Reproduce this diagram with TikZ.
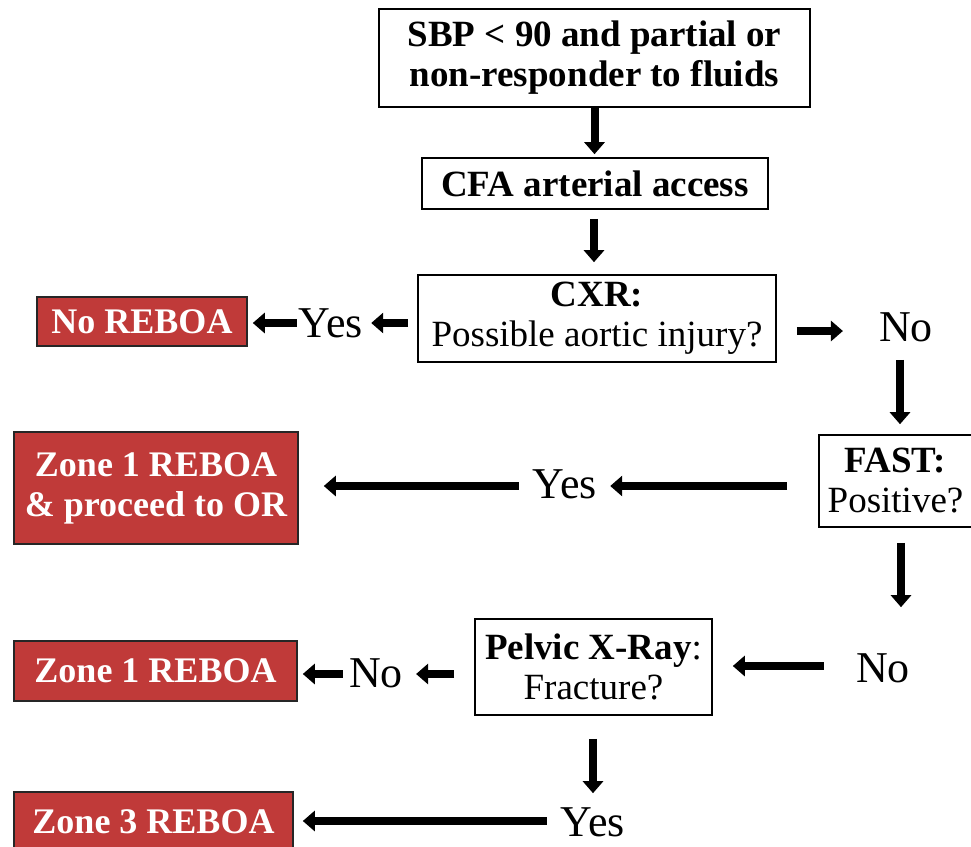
\documentclass[tikz,border=0pt]{standalone}
\usepackage{fontspec}
\setmainfont{Liberation Serif}
\usetikzlibrary{arrows.meta}
\definecolor{rebred}{HTML}{C03A39}
\tikzset{
  box/.style={draw=black, line width=1.6pt, fill=white, align=center, inner sep=0pt,
    font=\fontsize{37}{40}\selectfont},
  redbox/.style={draw=black!85, line width=1.6pt, fill=rebred, text=white, align=center, inner sep=0pt,
    font=\fontsize{36}{40}\selectfont\bfseries},
  lab/.style={inner sep=0pt, font=\fontsize{44}{48}\selectfont},
  arr/.style={line width=8pt, -{Triangle[width=20pt,length=12pt]}},
}
\newcommand{\rg}{\fontsize{37}{42}\selectfont\mdseries}
\begin{document}
\begin{tikzpicture}[x=1pt,y=-1pt]
\useasboundingbox (0,0) rectangle (971,846);
\clip (0,0) rectangle (971,846);
\fill[white] (0,0) rectangle (971,846);
% boxes
\node[box, minimum width=431pt, minimum height=98pt] (sbp) at (594.5,58) {\bfseries SBP < 90 and partial or\\\bfseries non-responder to fluids};
\node[box, minimum width=346pt, minimum height=51pt] (cfa) at (595,183.5) {\bfseries CFA arterial access};
\node[box, minimum width=358pt, minimum height=87pt] (cxr) at (597,318.5) {\bfseries CXR:\\\rg Possible aortic injury?};
\node[box, minimum width=153pt, minimum height=92pt] (fast) at (895.5,481) {\bfseries FAST:\\\rg Positive?};
\node[box, minimum width=237pt, minimum height=96pt] (pelvic) at (593.5,667) {\textbf{Pelvic X-Ray}:\\\rg Fracture?};
% red boxes
\node[redbox, minimum width=210pt, minimum height=49pt] (noreboa) at (142,321.5) {No REBOA};
\node[redbox, minimum width=284pt, minimum height=112pt] (zoneor) at (156,488) {Zone 1 REBOA\\\& proceed to OR};
\node[redbox, minimum width=283pt, minimum height=60pt] (zone1) at (155.5,671) {Zone 1 REBOA};
\node[redbox, minimum width=279pt, minimum height=60pt] (zone3) at (153.5,822) {Zone 3 REBOA};
% labels
\node[lab] (yes1) at (331,323) {Yes};
\node[lab] (no1) at (906,327) {No};
\node[lab] (yes2) at (565,484) {Yes};
\node[lab] (no2) at (883,668) {No};
\node[lab] (no3) at (376,673) {No};
\node[lab] (yes3) at (593,822) {Yes};
% arrows
\draw[arr, shorten >=3pt] (sbp.south) -- (sbp.south |- cfa.north);
\draw[arr, shorten <=9pt, shorten >=12pt] ([xshift=-1pt]cfa.south) -- ([xshift=-1pt]cfa.south |- cxr.north);
\draw[arr, shorten <=9pt, shorten >=8pt] (cxr.west |- yes1) -- (yes1.east);
\draw[arr, shorten <=2pt, shorten >=5pt] (yes1.west) -- (noreboa.east |- yes1);
\draw[arr, shorten <=20pt, shorten >=36pt] ([yshift=-4pt]cxr.east |- no1) -- ([yshift=-4pt]no1.west);
\draw[arr, shorten <=18pt, shorten >=10pt] ([xshift=-6pt]no1.south) -- ([xshift=-6pt]no1.south |- fast.north);
\draw[arr, shorten <=15pt, shorten >=46pt] ([xshift=5.5pt]fast.south) -- ([xshift=5.5pt]fast.south |- no2.north);
\draw[arr, shorten <=31pt, shorten >=13pt] ([yshift=-2pt]fast.west |- yes2) -- ([yshift=-2pt]yes2.east);
\draw[arr, shorten <=14pt, shorten >=25pt] ([yshift=-2pt]yes2.west) -- ([yshift=-2pt]zoneor.east |- yes2);
\draw[arr, shorten <=32pt, shorten >=20pt] ([yshift=2pt]no2.west) -- ([yshift=2pt]pelvic.east |- no2);
\draw[arr, shorten <=20pt, shorten >=13pt] ([yshift=-1pt]pelvic.west |- no3) -- ([yshift=-1pt]no3.east);
\draw[arr, shorten <=6pt, shorten >=5pt] ([yshift=-1pt]no3.west) -- ([yshift=-1pt]zone1.east |- no3);
\draw[arr, shorten <=23pt, shorten >=14pt] (pelvic.south -| yes3) -- (yes3.north);
\draw[arr, shorten <=14pt, shorten >=9pt] ([yshift=1pt]yes3.west) -- ([yshift=1pt]zone3.east |- yes3);
\end{tikzpicture}
\end{document}
